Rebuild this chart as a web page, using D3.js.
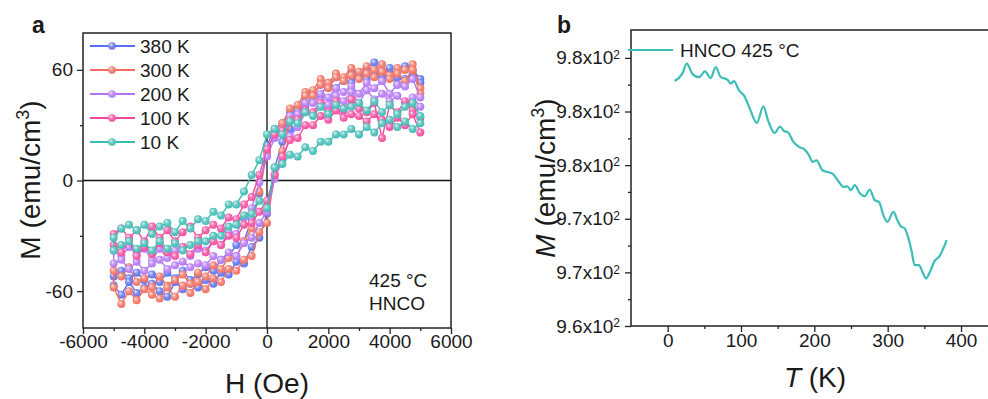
<!DOCTYPE html>
<html><head><meta charset="utf-8">
<script src="https://cdn.jsdelivr.net/npm/d3@7"></script>
<style>body{margin:0;background:#fff} svg{display:block} text{font-family:"Liberation Sans",Arial,sans-serif;fill:#1a1a1a}</style>
</head><body><svg id="c" width="988" height="399"></svg>
<script>
// ---------- Panel a data ----------
const fields = [-5000,-4750,-4500,-4250,-4000,-3750,-3500,-3250,-3000,-2750,-2500,-2250,-2000,-1750,-1500,-1250,-1000,-750,-500,-250,0,250,500,750,1000,1250,1500,1750,2000,2250,2500,2750,3000,3250,3500,3750,4000,4250,4500,4750,5000];
const seriesNames = ["380 K","300 K","200 K","100 K","10 K"];
const seriesColors = ["#5b6ef0","#f06c5c","#b274f2","#f2489c","#3cbab4"];
// descending-field branch (values listed for H ascending)
const upper380 = [-52,-49,-53,-50,-54,-51,-55,-50,-53,-49,-54,-51,-47,-49,-43,-41,-35,-33,-21,-7,19,28,31,37,39,46,47,52,51,56,54,59,56,61,64,57,61,56,62,60,55];
const lower380 = [-57,-62,-55,-61,-58,-56,-60,-63,-55,-59,-56,-58,-54,-56,-50,-51,-44,-45,-36,-31,-18,7,21,28,38,40,47,46,53,50,55,53,58,55,59,54,57,52,55,58,53];
const upper300 = [-49,-52,-47,-55,-53,-58,-52,-57,-54,-51,-56,-50,-52,-46,-48,-42,-41,-33,-26,-6,15,27,31,39,41,48,49,55,53,58,56,61,59,62,60,63,57,61,60,63,50];
const lower300 = [-58,-67,-60,-65,-59,-62,-64,-58,-63,-57,-61,-55,-59,-53,-55,-48,-49,-43,-41,-28,-23,3,16,32,36,46,46,52,50,56,54,57,55,58,56,59,55,58,54,60,47];
const upper200 = [-38,-41,-36,-40,-37,-43,-37,-42,-38,-36,-41,-37,-38,-33,-35,-28,-29,-20,-15,-1,13,23,27,35,36,42,42,47,45,50,48,51,47,53,50,54,47,52,51,55,45];
const lower200 = [-45,-43,-48,-44,-49,-45,-43,-48,-46,-44,-47,-45,-46,-41,-43,-39,-41,-34,-31,-23,-17,1,11,24,29,37,37,43,41,46,43,48,42,49,44,47,43,46,42,45,40];
const upper100 = [-29,-26,-31,-27,-33,-25,-31,-27,-33,-28,-25,-31,-27,-24,-26,-20,-21,-13,-9,3,17,25,27,33,33,38,37,42,37,43,38,44,39,37,42,23,41,37,43,38,34];
const lower100 = [-35,-39,-33,-41,-36,-40,-34,-39,-41,-36,-40,-35,-39,-33,-35,-30,-31,-24,-23,-17,-11,3,13,22,23,30,30,35,33,38,34,36,35,32,36,33,29,34,30,36,26];
const upper10 = [-31,-26,-24,-27,-24,-29,-25,-23,-28,-22,-26,-21,-22,-17,-19,-13,-13,-6,3,11,25,28,25,32,31,37,35,40,36,41,39,40,42,38,43,37,41,36,40,42,35];
const lower10 = [-38,-35,-33,-37,-34,-38,-33,-37,-34,-38,-35,-33,-33,-30,-30,-25,-24,-19,-18,-11,-15,7,9,14,13,18,16,21,21,25,25,28,25,29,26,31,33,29,32,28,31];
const uppers = [upper380, upper300, upper200, upper100, upper10];
const lowers = [lower380, lower300, lower200, lower100, lower10];
const xTicksA = [-6000,-4000,-2000,0,2000,4000,6000];
const xTickLabelsA = ["-6000","-4000","-2000","0","2000","4000","6000"];
const xMinorA = [-5000,-3000,-1000,1000,3000,5000];
const yTicksA = [-60,0,60];
const yTickLabelsA = ["-60","0","60"];
const yMinorA = [-30,30];

// ---------- Panel b data ----------
const temps = [9.5,20,26,33.6,42.7,50.9,58.6,65.5,72.3,81.4,85.9,90.4,97.2,104,113,121.4,130.5,136.8,145.9,153.1,158.6,164,171.4,179,186.8,192.7,197.3,203,211,224.6,233.6,239.6,245,249.6,255,262.3,268.7,275.5,282.3,288.2,294.1,299.6,307.8,313.2,317.7,323.2,327.7,332.3,336.8,342.7,347.3,352.3,357.7,364.1,370,380.5];
const moments = [982.84,983.53,984.46,983.53,983.2,983.74,983.12,984.14,983.2,982.97,982.6,982.84,981.97,981.5,980.1,978.93,980.48,979.18,978.0,978.6,978.18,978.06,977.16,976.7,976.45,975.92,975.3,975.45,974.52,974.2,973.43,972.97,973.03,972.66,973.13,972.35,972.1,972.73,971.73,971.57,970.33,969.71,970.64,969.87,969.31,969.1,968.31,967.08,965.68,965.68,965.06,964.44,965.06,966.08,966.45,968.0];
const xTicksB = [0,100,200,300,400];
const xTickLabelsB = ["0","100","200","300","400"];
const xMinorB = [50,150,250,350];
const yTicksB = [960,965,970,975,980,985];
const yTickMantB = ["9.6","9.7","9.7","9.8","9.8","9.8"];
const yMinorB = [962.5,967.5,972.5,977.5,982.5];

const svg = d3.select("#c");
const defs = svg.append("defs");
const AX = "#222";

seriesColors.forEach((c,i)=>{
  const g = defs.append("radialGradient").attr("id","g"+i)
    .attr("cx","45%").attr("cy","45%").attr("r","60%").attr("fx","35%").attr("fy","30%");
  g.append("stop").attr("offset","0%").attr("stop-color", d3.interpolateRgb(c,"#fff")(0.8));
  g.append("stop").attr("offset","50%").attr("stop-color", d3.interpolateRgb(c,"#fff")(0.2));
  g.append("stop").attr("offset","100%").attr("stop-color", c);
});

// ================= Panel a =================
const xA = d3.scaleLinear().domain([-6000,6000]).range([83,451]);
const yA = d3.scaleLinear().domain([-80,80]).range([328,33]);

function styleAxis(g){ g.attr("font-size",19).attr("font-family","'Liberation Sans',Arial,sans-serif");
  g.select(".domain").remove(); g.selectAll("line").attr("stroke",AX).attr("stroke-width",1.3); g.selectAll("text").attr("fill","#1a1a1a"); }

svg.append("g").attr("transform","translate(0,328)")
  .call(d3.axisBottom(xA).tickValues(xTicksA).tickSize(6).tickPadding(1).tickFormat((d,i)=>xTickLabelsA[i])).call(styleAxis);
svg.append("g").attr("transform","translate(0,328)")
  .call(d3.axisBottom(xA).tickValues(xMinorA).tickSize(3).tickFormat("")).call(styleAxis);
svg.append("g").attr("transform","translate(83,0)")
  .call(d3.axisLeft(yA).tickValues(yTicksA).tickSize(6).tickPadding(4).tickFormat((d,i)=>yTickLabelsA[i])).call(styleAxis);
svg.append("g").attr("transform","translate(83,0)")
  .call(d3.axisLeft(yA).tickValues(yMinorA).tickSize(3).tickFormat("")).call(styleAxis);

// crosshair
svg.append("line").attr("x1",xA(0)).attr("x2",xA(0)).attr("y1",yA(80)).attr("y2",yA(-80)).attr("stroke","#111").attr("stroke-width",1.3);
svg.append("line").attr("x1",xA(-6000)).attr("x2",xA(6000)).attr("y1",yA(0)).attr("y2",yA(0)).attr("stroke","#111").attr("stroke-width",1.3);

// series
const lineA = d3.line().x(d=>xA(d[0])).y(d=>yA(d[1]));
seriesNames.forEach((n,i)=>{
  const pts = [];
  for(let k=fields.length-1;k>=0;k--) pts.push([fields[k], uppers[i][k]]);
  for(let k=0;k<fields.length;k++) pts.push([fields[k], lowers[i][k]]);
  const g = svg.append("g");
  g.append("path").attr("d",lineA(pts)).attr("fill","none").attr("stroke",seriesColors[i]).attr("stroke-width",1.4);
  g.selectAll("circle").data(pts).join("circle").attr("cx",d=>xA(d[0])).attr("cy",d=>yA(d[1])).attr("r",4).attr("fill","url(#g"+i+")");
});

// frame
svg.append("rect").attr("x",83).attr("y",33).attr("width",368).attr("height",295).attr("fill","none").attr("stroke",AX).attr("stroke-width",1.5);

// legend a
seriesNames.forEach((n,i)=>{
  const y = 46 + i*24;
  svg.append("line").attr("x1",90).attr("x2",135).attr("y1",y).attr("y2",y).attr("stroke",seriesColors[i]).attr("stroke-width",2);
  svg.append("circle").attr("cx",112).attr("cy",y).attr("r",3.8).attr("fill","url(#g"+i+")");
  svg.append("text").attr("x",140).attr("y",y+7).attr("font-size",19).text(n);
});

svg.append("text").attr("x",369).attr("y",287).attr("font-size",19).text("425 °C");
svg.append("text").attr("x",369).attr("y",310).attr("font-size",19).text("HNCO");
svg.append("text").attr("x",32).attr("y",33).attr("font-size",23).attr("font-weight","bold").text("a");
svg.append("text").attr("x",267).attr("y",393).attr("font-size",28).attr("text-anchor","middle").text("H (Oe)");
const ta = svg.append("text").attr("transform","translate(40,180) rotate(-90)").attr("font-size",28).attr("text-anchor","middle");
ta.append("tspan").text("M (emu/cm");
ta.append("tspan").attr("font-size",18).attr("dy",-11).text("3");
ta.append("tspan").attr("dy",11).text(")");

// ================= Panel b =================
const xB = d3.scaleLinear().domain([-50,450]).range([631,997.7]);
const yB = d3.scaleLinear().domain([960,987.6]).range([326,30]);

svg.append("g").attr("transform","translate(0,326)")
  .call(d3.axisBottom(xB).tickValues(xTicksB).tickSize(6).tickPadding(1.5).tickFormat((d,i)=>xTickLabelsB[i])).call(styleAxis);
svg.append("g").attr("transform","translate(0,326)")
  .call(d3.axisBottom(xB).tickValues(xMinorB).tickSize(3).tickFormat("")).call(styleAxis);
const gyB = svg.append("g").attr("transform","translate(631,0)")
  .call(d3.axisLeft(yB).tickValues(yTicksB).tickSize(6).tickPadding(5).tickFormat("")).call(styleAxis);
gyB.selectAll(".tick text").each(function(d,i){
  const t = d3.select(this);
  t.append("tspan").text(yTickMantB[i] + "x10");
  t.append("tspan").attr("font-size",12).attr("dy","-0.45em").text("2");
});
svg.append("g").attr("transform","translate(631,0)")
  .call(d3.axisLeft(yB).tickValues(yMinorB).tickSize(3).tickFormat("")).call(styleAxis);

svg.append("path").datum(temps.map((t,i)=>[t,moments[i]]))
  .attr("d", d3.line().curve(d3.curveMonotoneX).x(d=>xB(d[0])).y(d=>yB(d[1])))
  .attr("fill","none").attr("stroke","#3dbdb8").attr("stroke-width",2.2).attr("stroke-linejoin","round");

svg.append("rect").attr("x",631).attr("y",30).attr("width",366.7).attr("height",296).attr("fill","none").attr("stroke",AX).attr("stroke-width",1.5);

svg.append("line").attr("x1",628).attr("x2",673).attr("y1",50).attr("y2",50).attr("stroke","#3dbdb8").attr("stroke-width",2.2);
svg.append("text").attr("x",680).attr("y",57).attr("font-size",19).text("HNCO 425 °C");
svg.append("text").attr("x",557).attr("y",33).attr("font-size",23).attr("font-weight","bold").text("b");
const tt = svg.append("text").attr("x",815).attr("y",387).attr("font-size",28).attr("text-anchor","middle");
tt.append("tspan").attr("font-style","italic").text("T");
tt.append("tspan").text(" (K)");
const tb = svg.append("text").attr("transform","translate(555,178) rotate(-90)").attr("font-size",28).attr("text-anchor","middle");
tb.append("tspan").attr("font-style","italic").text("M");
tb.append("tspan").text(" (emu/cm");
tb.append("tspan").attr("font-size",18).attr("dy",-11).text("3");
tb.append("tspan").attr("dy",11).text(")");
</script></body></html>
